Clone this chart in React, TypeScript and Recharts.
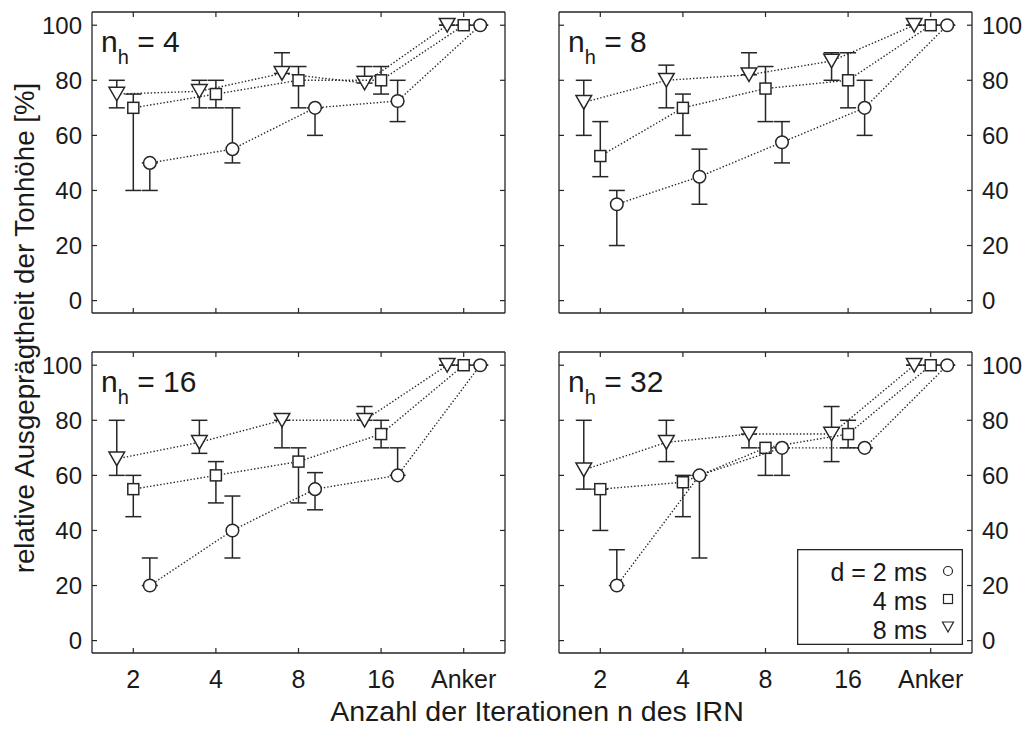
import React from "react";
import { ScatterChart, Scatter, XAxis, YAxis, ErrorBar, Legend } from "recharts";

const FONT = '"Liberation Sans", Arial, Helvetica, sans-serif';
const INK = "#262626";

const categories = ["2", "4", "8", "16", "Anker"];
const xTicks = [1, 2, 3, 4, 5];
const yTicks = [0, 20, 40, 60, 80, 100];
const delayLabels = ["d = 2 ms", "4 ms", "8 ms"];

// n_h = 4
const nh4Circle = [50, 55, 70, 72.5, 100];
const nh4CircleLow = [40, 50, 60, 65, 100];
const nh4CircleHigh = [50, 70, 70, 80, 100];
const nh4Square = [70, 75, 80, 80, 100];
const nh4SquareLow = [40, 70, 70, 75, 100];
const nh4SquareHigh = [75, 80, 85, 85, 100];
const nh4Triangle = [75, 76, 82.5, 79, 100];
const nh4TriangleLow = [70, 70, 82.5, 79, 100];
const nh4TriangleHigh = [80, 80, 90, 85, 100];

// n_h = 8
const nh8Circle = [35, 45, 57.5, 70, 100];
const nh8CircleLow = [20, 35, 50, 60, 100];
const nh8CircleHigh = [40, 55, 65, 80, 100];
const nh8Square = [52.5, 70, 77, 80, 100];
const nh8SquareLow = [45, 60, 65, 70, 100];
const nh8SquareHigh = [65, 75, 85, 90, 100];
const nh8Triangle = [72, 80, 82, 87, 100];
const nh8TriangleLow = [60, 70, 82, 80, 100];
const nh8TriangleHigh = [80, 85.5, 90, 90, 100];

// n_h = 16
const nh16Circle = [20, 40, 55, 60, 100];
const nh16CircleLow = [20, 30, 47.5, 60, 100];
const nh16CircleHigh = [30, 52.5, 61, 70, 100];
const nh16Square = [55, 60, 65, 75, 100];
const nh16SquareLow = [45, 50, 50, 70, 100];
const nh16SquareHigh = [60, 65, 70, 80, 100];
const nh16Triangle = [66, 72, 80, 80, 100];
const nh16TriangleLow = [60, 68, 70, 80, 100];
const nh16TriangleHigh = [80, 80, 80, 85, 100];

// n_h = 32
const nh32Circle = [20, 60, 70, 70, 100];
const nh32CircleLow = [20, 30, 60, 70, 100];
const nh32CircleHigh = [33, 60, 70, 70, 100];
const nh32Square = [55, 57.5, 70, 75, 100];
const nh32SquareLow = [40, 45, 60, 70, 100];
const nh32SquareHigh = [55, 60, 70, 80, 100];
const nh32Triangle = [62, 72, 75, 75, 100];
const nh32TriangleLow = [55, 65, 70, 65, 100];
const nh32TriangleHigh = [80, 80, 75, 85, 100];

const Y_DOMAIN: [number, number] = [-4.5, 104.8];
const PLOT_W = 413;
const PLOT_H = 301;
const AX_SIDE = 60;
const AX_TOP = 4;
const AX_BOTTOM = 60;

type Row = { x: number; y: number; err: [number, number] };

function toRows(values: number[], low: number[], high: number[], shift: number): Row[] {
  return values.map((v, i) => ({
    x: i + 1 + shift,
    y: v,
    err: [v - low[i], high[i] - v],
  }));
}

const CircleMark = (p: any) =>
  p.cx == null ? null : (
    <circle cx={p.cx} cy={p.cy} r={6.3} fill="#fff" stroke={INK} strokeWidth={1.5} />
  );

const SquareMark = (p: any) =>
  p.cx == null ? null : (
    <rect x={p.cx - 5.5} y={p.cy - 5.5} width={11} height={11} fill="#fff" stroke={INK} strokeWidth={1.5} />
  );

const TriangleMark = (p: any) =>
  p.cx == null ? null : (
    <path
      d={`M${p.cx - 7.8},${p.cy - 6.8} L${p.cx + 7.8},${p.cy - 6.8} L${p.cx},${p.cy + 6.8} Z`}
      fill="#fff"
      stroke={INK}
      strokeWidth={1.5}
    />
  );

const dotted = { stroke: INK, strokeWidth: 1.4, strokeDasharray: "1.4 2" };

type Panel = {
  nh: number;
  plotX: number;
  plotY: number;
  labelSide: "left" | "right";
  xLabels: boolean;
  legend?: boolean;
  circle: Row[];
  square: Row[];
  triangle: Row[];
};

const panels: Panel[] = [
  {
    nh: 4, plotX: 92, plotY: 12, labelSide: "left", xLabels: false,
    circle: toRows(nh4Circle, nh4CircleLow, nh4CircleHigh, 0.2),
    square: toRows(nh4Square, nh4SquareLow, nh4SquareHigh, 0),
    triangle: toRows(nh4Triangle, nh4TriangleLow, nh4TriangleHigh, -0.2),
  },
  {
    nh: 8, plotX: 559, plotY: 12, labelSide: "right", xLabels: false,
    circle: toRows(nh8Circle, nh8CircleLow, nh8CircleHigh, 0.2),
    square: toRows(nh8Square, nh8SquareLow, nh8SquareHigh, 0),
    triangle: toRows(nh8Triangle, nh8TriangleLow, nh8TriangleHigh, -0.2),
  },
  {
    nh: 16, plotX: 92, plotY: 352, labelSide: "left", xLabels: true,
    circle: toRows(nh16Circle, nh16CircleLow, nh16CircleHigh, 0.2),
    square: toRows(nh16Square, nh16SquareLow, nh16SquareHigh, 0),
    triangle: toRows(nh16Triangle, nh16TriangleLow, nh16TriangleHigh, -0.2),
  },
  {
    nh: 32, plotX: 559, plotY: 352, labelSide: "right", xLabels: true, legend: true,
    circle: toRows(nh32Circle, nh32CircleLow, nh32CircleHigh, 0.2),
    square: toRows(nh32Square, nh32SquareLow, nh32SquareHigh, 0),
    triangle: toRows(nh32Triangle, nh32TriangleLow, nh32TriangleHigh, -0.2),
  },
];

// inward tick marks, MATLAB box style
const makeXTick = (dir: 1 | -1, withLabel: boolean) => (p: any) => (
  <g>
    <line x1={p.x} x2={p.x} y1={p.y} y2={p.y + dir * 5} stroke={INK} strokeWidth={1.2} />
    {withLabel && (
      <text x={p.x} y={p.y + 35} textAnchor="middle" fontSize={25} fontFamily={FONT} fill="#1a1a1a">
        {categories[p.payload.value - 1]}
      </text>
    )}
  </g>
);

const makeYTick = (dir: 1 | -1, withLabel: boolean) => (p: any) => (
  <g>
    <line x1={p.x} x2={p.x + dir * 5} y1={p.y} y2={p.y} stroke={INK} strokeWidth={1.2} />
    {withLabel && (
      <text
        x={p.x - dir * 10}
        y={p.y + 8.5}
        textAnchor={dir === 1 ? "end" : "start"}
        fontSize={24}
        fontFamily={FONT}
        fill="#1a1a1a"
      >
        {p.payload.value}
      </text>
    )}
  </g>
);

const LegendBox = () => {
  const rowY = [32, 61, 90];
  return (
    <svg width={166} height={96} style={{ display: "block" }}>
      <rect x={0.65} y={0.65} width={164.7} height={94.7} fill="#fff" stroke={INK} strokeWidth={1.3} />
      {delayLabels.map((label, i) => (
        <text
          key={label}
          x={130}
          y={rowY[i]}
          textAnchor="end"
          fontSize={25}
          fontFamily={FONT}
          fill="#1a1a1a"
        >
          {label}
        </text>
      ))}
      <circle cx={151} cy={22} r={4.5} fill="#fff" stroke={INK} strokeWidth={1.2} />
      <rect x={146.5} y={45.5} width={9} height={9} fill="#fff" stroke={INK} strokeWidth={1.2} />
      <path d="M145.5,73 L156.5,73 L151,83 Z" fill="#fff" stroke={INK} strokeWidth={1.2} />
    </svg>
  );
};

function PanelChart({ panel }: { panel: Panel }) {
  const left = panel.labelSide === "left";
  return (
    <div
      style={{
        position: "absolute",
        left: panel.plotX - AX_SIDE,
        top: panel.plotY - AX_TOP,
      }}
    >
      <ScatterChart
        width={PLOT_W + 2 * AX_SIDE}
        height={PLOT_H + AX_TOP + AX_BOTTOM}
        margin={{ top: 0, right: 0, bottom: 0, left: 0 }}
      >
        <XAxis
          xAxisId="b"
          dataKey="x"
          type="number"
          orientation="bottom"
          domain={[0.5, 5.5]}
          ticks={xTicks}
          interval={0}
          height={AX_BOTTOM}
          axisLine={{ stroke: INK, strokeWidth: 1.3 }}
          tickLine={false}
          tickSize={0}
          tickMargin={0}
          tick={makeXTick(-1, panel.xLabels)}
          allowDataOverflow
        />
        <XAxis
          xAxisId="t"
          dataKey="x"
          type="number"
          orientation="top"
          domain={[0.5, 5.5]}
          ticks={xTicks}
          interval={0}
          height={AX_TOP}
          axisLine={{ stroke: INK, strokeWidth: 1.3 }}
          tickLine={false}
          tickSize={0}
          tickMargin={0}
          tick={makeXTick(1, false)}
          allowDataOverflow
        />
        <YAxis
          yAxisId="l"
          dataKey="y"
          type="number"
          orientation="left"
          domain={Y_DOMAIN}
          ticks={yTicks}
          interval={0}
          width={AX_SIDE}
          axisLine={{ stroke: INK, strokeWidth: 1.3 }}
          tickLine={false}
          tickSize={0}
          tickMargin={0}
          tick={makeYTick(1, left)}
          allowDataOverflow
        />
        <YAxis
          yAxisId="r"
          dataKey="y"
          type="number"
          orientation="right"
          domain={Y_DOMAIN}
          ticks={yTicks}
          interval={0}
          width={AX_SIDE}
          axisLine={{ stroke: INK, strokeWidth: 1.3 }}
          tickLine={false}
          tickSize={0}
          tickMargin={0}
          tick={makeYTick(-1, !left)}
          allowDataOverflow
        />
        <Scatter
          name="8 ms"
          data={panel.triangle}
          xAxisId="b"
          yAxisId="l"
          fill="#fff"
          line={dotted}
          lineJointType="linear"
          shape={TriangleMark}
          isAnimationActive={false}
        >
          <ErrorBar dataKey="err" direction="y" width={8} stroke={INK} strokeWidth={1.5} />
        </Scatter>
        <Scatter
          name="4 ms"
          data={panel.square}
          xAxisId="b"
          yAxisId="l"
          fill="#fff"
          line={dotted}
          lineJointType="linear"
          shape={SquareMark}
          isAnimationActive={false}
        >
          <ErrorBar dataKey="err" direction="y" width={8} stroke={INK} strokeWidth={1.5} />
        </Scatter>
        <Scatter
          name="d = 2 ms"
          data={panel.circle}
          xAxisId="b"
          yAxisId="l"
          fill="#fff"
          line={dotted}
          lineJointType="linear"
          shape={CircleMark}
          isAnimationActive={false}
        >
          <ErrorBar dataKey="err" direction="y" width={8} stroke={INK} strokeWidth={1.5} />
        </Scatter>
        {panel.legend && (
          <Legend
            layout="horizontal"
            verticalAlign="middle"
            align="center"
            content={() => <LegendBox />}
            wrapperStyle={{ left: 797 - (panel.plotX - AX_SIDE), top: 549 - (panel.plotY - AX_TOP), width: 166, height: 96 }}
          />
        )}
      </ScatterChart>
    </div>
  );
}

export default function App() {
  return (
    <div
      style={{
        position: "absolute",
        left: 0,
        top: 0,
        width: 1022,
        height: 729,
        background: "#fff",
        overflow: "hidden",
        fontFamily: FONT,
      }}
    >
      {panels.map((p) => (
        <PanelChart key={p.nh} panel={p} />
      ))}
      <svg
        width={1022}
        height={729}
        style={{ position: "absolute", left: 0, top: 0, pointerEvents: "none" }}
      >
        {panels.map((p) => (
          <text
            key={p.nh}
            x={p.plotX + 9}
            y={p.plotY + 40}
            fontSize={30}
            fontFamily={FONT}
            fill="#1a1a1a"
            style={{ whiteSpace: "pre" }}
          >
            n
            <tspan fontSize={20} dy={12}>h</tspan>
            <tspan fontSize={30} dy={-12}>{` = ${p.nh}`}</tspan>
          </text>
        ))}
        <text
          transform="translate(34, 328) rotate(-90)"
          textAnchor="middle"
          fontSize={27.7}
          fontFamily={FONT}
          fill="#1a1a1a"
        >
          relative Ausgeprägtheit der Tonhöhe [%]
        </text>
        <text x={537} y={721} textAnchor="middle" fontSize={28.5} fontFamily={FONT} fill="#1a1a1a">
          Anzahl der Iterationen n des IRN
        </text>
      </svg>
    </div>
  );
}
